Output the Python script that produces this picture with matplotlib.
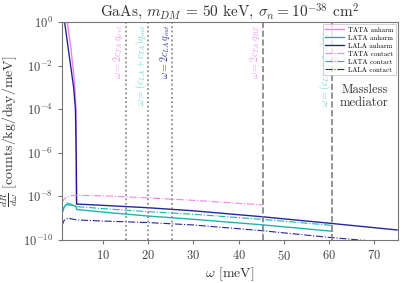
import numpy as np
import matplotlib
matplotlib.use("Agg")
import matplotlib.pyplot as plt
import matplotlib.transforms as mtransforms

plt.rcParams['font.family'] = 'cmr10'
plt.rcParams['mathtext.fontset'] = 'cm'
plt.rcParams['axes.formatter.use_mathtext'] = True

# data (log10 of dR/dw)
w_tata_anh = [1.0, 2.2, 3.0, 3.8, 4.1, 4.2, 4.25]
r_tata_anh = [1.0, 0.0, -1.2, -2.8, -4.0, -6.0, -8.35]

w_lata_anh = [1.0, 1.5, 2.0, 3.0, 4.1, 4.25, 10, 20, 30, 45, 60.7]
r_lata_anh = [-8.8, -8.5, -8.38, -8.4, -8.45, -8.6, -8.72, -8.9, -9.05, -9.3, -9.6]

w_lala_anh = [1.2, 1.6, 2.6, 3.6, 4.0, 4.15, 4.25, 10, 20, 30, 45, 60, 75]
r_lala_anh = [0.8, 0.0, -1.5, -3.0, -4.0, -6.0, -8.35, -8.41, -8.52, -8.66, -8.93, -9.23, -9.54]

w_tata_con = [1.0, 1.5, 2.0, 3.0, 4.3, 10, 20, 30, 45.3]
r_tata_con = [-8.3, -8.12, -8.04, -7.97, -7.95, -7.97, -8.07, -8.18, -8.39]

w_lata_con = [1.0, 1.5, 2.0, 3.0, 4.3, 10, 20, 30, 45, 60.7]
r_lata_con = [-8.8, -8.45, -8.3, -8.35, -8.47, -8.56, -8.7, -8.82, -9.05, -9.33]

w_lala_con = [1.0, 1.5, 2.3, 4.3, 10, 20, 30, 45, 60, 75]
r_lala_con = [-9.35, -9.1, -9.0, -9.08, -9.13, -9.2, -9.31, -9.57, -9.88, -10.15]

vlines_dot = [15.1, 20.1, 25.3]
vlines_dash = [45.3, 60.7]
vlabels = [r'$\omega = 2c_{TA}\,q_{out}$', r'$\omega = (c_{LA} + c_{TA})q_{out}$',
           r'$\omega = 2c_{LA}\,q_{out}$', r'$\omega = 2c_{TA}\,q_{BZ}$',
           r'$\omega = (c_{LA} + c_{TA})q_{BZ}$']
vcolors = ['violet', 'mediumturquoise', 'darkblue', 'violet', 'mediumturquoise']

fig, ax = plt.subplots(figsize=(4.07, 2.83), dpi=100)
fig.subplots_adjust(left=0.152, right=0.978, top=0.922, bottom=0.152)

ax.plot(w_tata_anh, 10.0**np.array(r_tata_anh), color='violet', lw=1, label='TATA anharm')
ax.plot(w_lata_anh, 10.0**np.array(r_lata_anh), color='lightseagreen', lw=1, label='LATA anharm')
ax.plot(w_lala_anh, 10.0**np.array(r_lala_anh), color='darkblue', lw=1, alpha=0.85, label='LALA anharm')
ax.plot(w_tata_con, 10.0**np.array(r_tata_con), color='violet', lw=0.8, ls='-.', label='TATA contact')
ax.plot(w_lata_con, 10.0**np.array(r_lata_con), color='lightseagreen', lw=0.8, ls='-.', label='LATA contact')
ax.plot(w_lala_con, 10.0**np.array(r_lala_con), color='darkblue', lw=0.8, ls='-.', alpha=0.85, label='LALA contact')

for x in vlines_dot:
    ax.axvline(x, color='gray', ls=':', lw=1.2)
for x in vlines_dash:
    ax.axvline(x, color='gray', ls='--', lw=1.2)

trans = mtransforms.blended_transform_factory(ax.transData, ax.transAxes)
for x, lab, c in zip(vlines_dot + vlines_dash, vlabels, vcolors):
    ax.text(x - 1.6, 0.99, lab, transform=trans, rotation=90, ha='center', va='top',
            color=c, fontsize=7.2, alpha=0.8)

ax.text(0.9, 0.66, 'Massless\nmediator', transform=ax.transAxes, ha='center', va='center',
        fontsize=9, color='#333333', linespacing=1.1)

ax.set_yscale('log')
ax.set_xlim(1, 75.2)
ax.set_ylim(1e-10, 1)
ax.set_yticks([1e0, 1e-2, 1e-4, 1e-6, 1e-8, 1e-10])
ax.yaxis.set_minor_locator(matplotlib.ticker.NullLocator())
ax.set_xticks([10, 20, 30, 40, 50, 60, 70])

ax.set_xlabel(r'$\omega$ [meV]', fontsize=10, color='#333333', labelpad=2)
ax.set_ylabel(r'$\frac{dR}{d\omega}$ [counts/kg/day/meV]', fontsize=10, color='#333333', labelpad=2)
ax.set_title(r'GaAs, $m_{DM}$ = 50 keV, $\sigma_n = 10^{-38}$ cm$^2$', fontsize=11, color='#333333', pad=4)

for s in ax.spines.values():
    s.set_color('#777777')
ax.tick_params(colors='#777777', labelcolor='#444444', labelsize=9, length=3)

leg = ax.legend(loc='upper right', fontsize=5, frameon=True, fancybox=False,
                handlelength=2.6, handletextpad=0.6, borderpad=0.4, labelspacing=0.3,
                borderaxespad=0.3)
leg.get_frame().set_edgecolor('#bbbbbb')
leg.get_frame().set_linewidth(0.6)

fig.savefig('out.png', dpi=100)
